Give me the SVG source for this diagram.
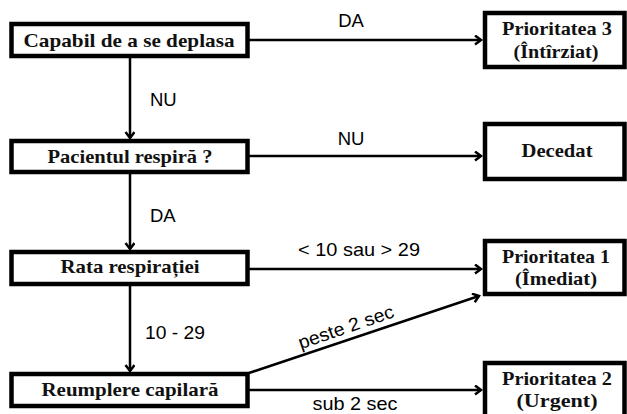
<svg xmlns="http://www.w3.org/2000/svg" width="627" height="414" viewBox="0 0 627 414">
<style>
.box{fill:#fff;stroke:#000;stroke-width:4.5}
.bt{font-family:"Liberation Serif","Times New Roman",serif;font-weight:bold;font-size:19px;text-anchor:middle;fill:#111}
.lb{font-family:"Liberation Sans",Arial,sans-serif;font-size:18.5px;fill:#000}
.ln{stroke:#000;stroke-width:2.5;fill:none;marker-end:url(#ah)}
</style>
<defs>
<marker id="ah" markerUnits="userSpaceOnUse" markerWidth="12" markerHeight="12" refX="7" refY="5" orient="auto" viewBox="0 0 12 12">
<path d="M1,0.5 L7,5 L1,9.5" fill="none" stroke="#000" stroke-width="2.5"/>
</marker>
</defs>
<g id="connectors">
<line class="ln" x1="249" y1="40" x2="481" y2="40"/>
<line class="ln" x1="130" y1="58" x2="130" y2="138"/>
<line class="ln" x1="249" y1="156" x2="481" y2="156"/>
<line class="ln" x1="130" y1="174" x2="130" y2="249"/>
<line class="ln" x1="249" y1="269" x2="481" y2="269"/>
<line class="ln" x1="130" y1="286" x2="130" y2="371"/>
<line class="ln" x1="249" y1="373" x2="479" y2="296"/>
<line class="ln" x1="249" y1="390" x2="481" y2="390"/>
<text class="lb" x="351" y="27" text-anchor="middle">DA</text>
<text class="lb" x="150" y="106">NU</text>
<text class="lb" x="351" y="145" text-anchor="middle">NU</text>
<text class="lb" x="150" y="222">DA</text>
<text class="lb" x="359" y="256" text-anchor="middle" textLength="122" lengthAdjust="spacingAndGlyphs">&lt; 10 sau &gt; 29</text>
<text class="lb" x="145" y="339" textLength="60" lengthAdjust="spacingAndGlyphs">10 - 29</text>
<text class="lb" x="348" y="333" text-anchor="middle" transform="rotate(-19 348 333)" textLength="100" lengthAdjust="spacingAndGlyphs">peste 2 sec</text>
<text class="lb" x="355" y="410" text-anchor="middle" textLength="85" lengthAdjust="spacingAndGlyphs">sub 2 sec</text>
</g>
<g id="n1">
<rect class="box" x="11.5" y="24" width="236" height="32"/>
<text class="bt" x="129" y="47" textLength="211" lengthAdjust="spacingAndGlyphs">Capabil de a se deplasa</text>
</g>
<g id="n2">
<rect class="box" x="11.5" y="141" width="236" height="31"/>
<text class="bt" x="130" y="163" textLength="165" lengthAdjust="spacingAndGlyphs">Pacientul respiră ?</text>
</g>
<g id="n3">
<rect class="box" x="11.5" y="252" width="236" height="32"/>
<text class="bt" x="130" y="273" textLength="139" lengthAdjust="spacingAndGlyphs">Rata respirației</text>
</g>
<g id="n4">
<rect class="box" x="11.5" y="374" width="236" height="32"/>
<text class="bt" x="130" y="396" textLength="177" lengthAdjust="spacingAndGlyphs">Reumplere capilară</text>
</g>
<g id="p3">
<rect class="box" x="485" y="13" width="139.5" height="54"/>
<text class="bt" x="557" y="35" textLength="110" lengthAdjust="spacingAndGlyphs">Prioritatea 3</text>
<text class="bt" x="556" y="58" textLength="85" lengthAdjust="spacingAndGlyphs">(Întîrziat)</text>
</g>
<g id="dec">
<rect class="box" x="485" y="124" width="139.5" height="55"/>
<text class="bt" x="557" y="157" textLength="71" lengthAdjust="spacingAndGlyphs">Decedat</text>
</g>
<g id="p1">
<rect class="box" x="485" y="241" width="139.5" height="53"/>
<text class="bt" x="556" y="263" textLength="108" lengthAdjust="spacingAndGlyphs">Prioritatea 1</text>
<text class="bt" x="556" y="285" textLength="82" lengthAdjust="spacingAndGlyphs">(Îmediat)</text>
</g>
<g id="p2">
<rect class="box" x="485" y="363" width="139.5" height="56"/>
<text class="bt" x="557" y="385" textLength="110" lengthAdjust="spacingAndGlyphs">Prioritatea 2</text>
<text class="bt" x="557" y="407" textLength="81" lengthAdjust="spacingAndGlyphs">(Urgent)</text>
</g>
</svg>
